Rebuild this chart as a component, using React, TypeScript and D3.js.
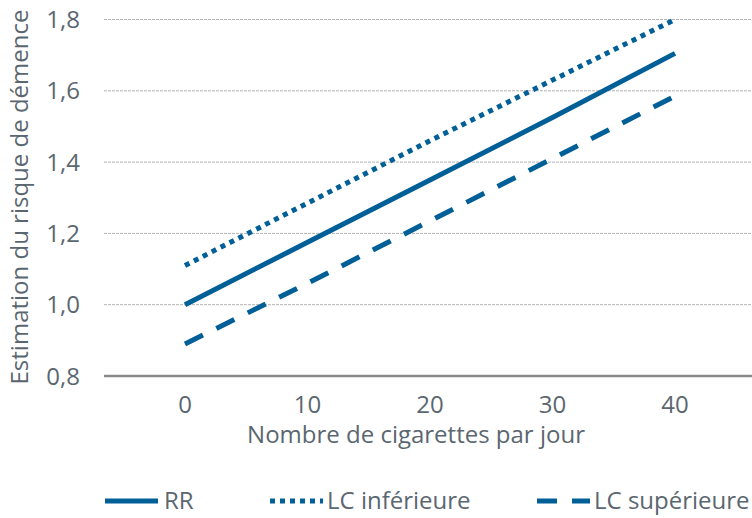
import React, { useEffect, useRef } from 'react';
import * as d3 from 'd3';

// cigarettes per day (categories on the x axis)
const categories = ['0', '10', '20', '30', '40'];
// relative risk estimate and confidence limits
const rrValues = [1.0, 1.175, 1.35, 1.525, 1.705];
const lcInfValues = [1.11, 1.285, 1.46, 1.63, 1.8];
const lcSupValues = [0.89, 1.06, 1.235, 1.41, 1.585];
const yTicks = [0.8, 1.0, 1.2, 1.4, 1.6, 1.8];

const seriesNames = ['RR', 'LC inférieure', 'LC supérieure'];

const W = 752;
const H = 518;
const BLUE = '#005f97';
const TEXT = '#5b6770';
const FONT = '"Open Sans", sans-serif';
const FS = 24;

const App: React.FC = () => {
  const ref = useRef<SVGSVGElement>(null);

  useEffect(() => {
    const svg = d3.select(ref.current);
    svg.selectAll('*').remove();

    const axisLeft = 104;
    const axisRight = 752;

    const x = d3.scalePoint<string>().domain(categories).range([185, 675]);
    const y = d3.scaleLinear().domain([0.8, 1.8]).range([376, 19.5]);

    // gridlines
    svg.append('g')
      .selectAll('line')
      .data(yTicks.slice(1))
      .enter()
      .append('line')
      .attr('x1', axisLeft)
      .attr('x2', axisRight)
      .attr('y1', d => y(d))
      .attr('y2', d => y(d))
      .attr('stroke', '#b3b3b3')
      .attr('stroke-width', 1)
      .attr('stroke-dasharray', '3 1');

    // x axis line
    svg.append('line')
      .attr('x1', axisLeft)
      .attr('x2', axisRight)
      .attr('y1', y(0.8))
      .attr('y2', y(0.8))
      .attr('stroke', '#8a8a8a')
      .attr('stroke-width', 2.5);

    // y tick labels
    svg.append('g')
      .selectAll('text')
      .data(yTicks)
      .enter()
      .append('text')
      .attr('x', 80)
      .attr('y', d => y(d) + 8.5)
      .attr('text-anchor', 'end')
      .attr('font-family', FONT)
      .attr('font-size', FS)
      .attr('fill', TEXT)
      .text(d => d.toFixed(1).replace('.', ','));

    // x tick labels
    svg.append('g')
      .selectAll('text')
      .data(categories)
      .enter()
      .append('text')
      .attr('x', d => x(d) as number)
      .attr('y', 413)
      .attr('text-anchor', 'middle')
      .attr('font-family', FONT)
      .attr('font-size', FS)
      .attr('fill', TEXT)
      .text(d => d);

    // axis titles
    svg.append('text')
      .attr('x', 416)
      .attr('y', 443)
      .attr('text-anchor', 'middle')
      .attr('font-family', FONT)
      .attr('font-size', FS)
      .attr('fill', TEXT)
      .text('Nombre de cigarettes par jour');

    svg.append('text')
      .attr('transform', 'translate(28,197) rotate(-90)')
      .attr('text-anchor', 'middle')
      .attr('font-family', FONT)
      .attr('font-size', FS)
      .attr('fill', TEXT)
      .text('Estimation du risque de démence');

    const dashes = ['', '5 5', '20 15'];
    const allSeries = [rrValues, lcInfValues, lcSupValues];

    const line = d3.line<number>()
      .x((_, i) => x(categories[i]) as number)
      .y(d => y(d));

    allSeries.forEach((vals, i) => {
      svg.append('path')
        .datum(vals)
        .attr('d', line)
        .attr('fill', 'none')
        .attr('stroke', BLUE)
        .attr('stroke-width', 5)
        .attr('stroke-dasharray', dashes[i] || null);
    });

    // legend
    const legendX = [105, 270, 537];
    const legendY = 501;
    seriesNames.forEach((name, i) => {
      const g = svg.append('g').attr('transform', `translate(${legendX[i]},${legendY})`);
      g.append('line')
        .attr('x1', 0)
        .attr('x2', 53)
        .attr('y1', 0)
        .attr('y2', 0)
        .attr('stroke', BLUE)
        .attr('stroke-width', 5)
        .attr('stroke-dasharray', dashes[i] || null);
      g.append('text')
        .attr('x', i === 0 ? 59 : 57)
        .attr('y', 8)
        .attr('font-family', FONT)
        .attr('font-size', FS)
        .attr('fill', TEXT)
        .text(name);
    });
  }, []);

  return (
    <svg
      ref={ref}
      width={W}
      height={H}
      style={{ position: 'absolute', left: 0, top: 0, background: '#fff' }}
    />
  );
};

export default App;
